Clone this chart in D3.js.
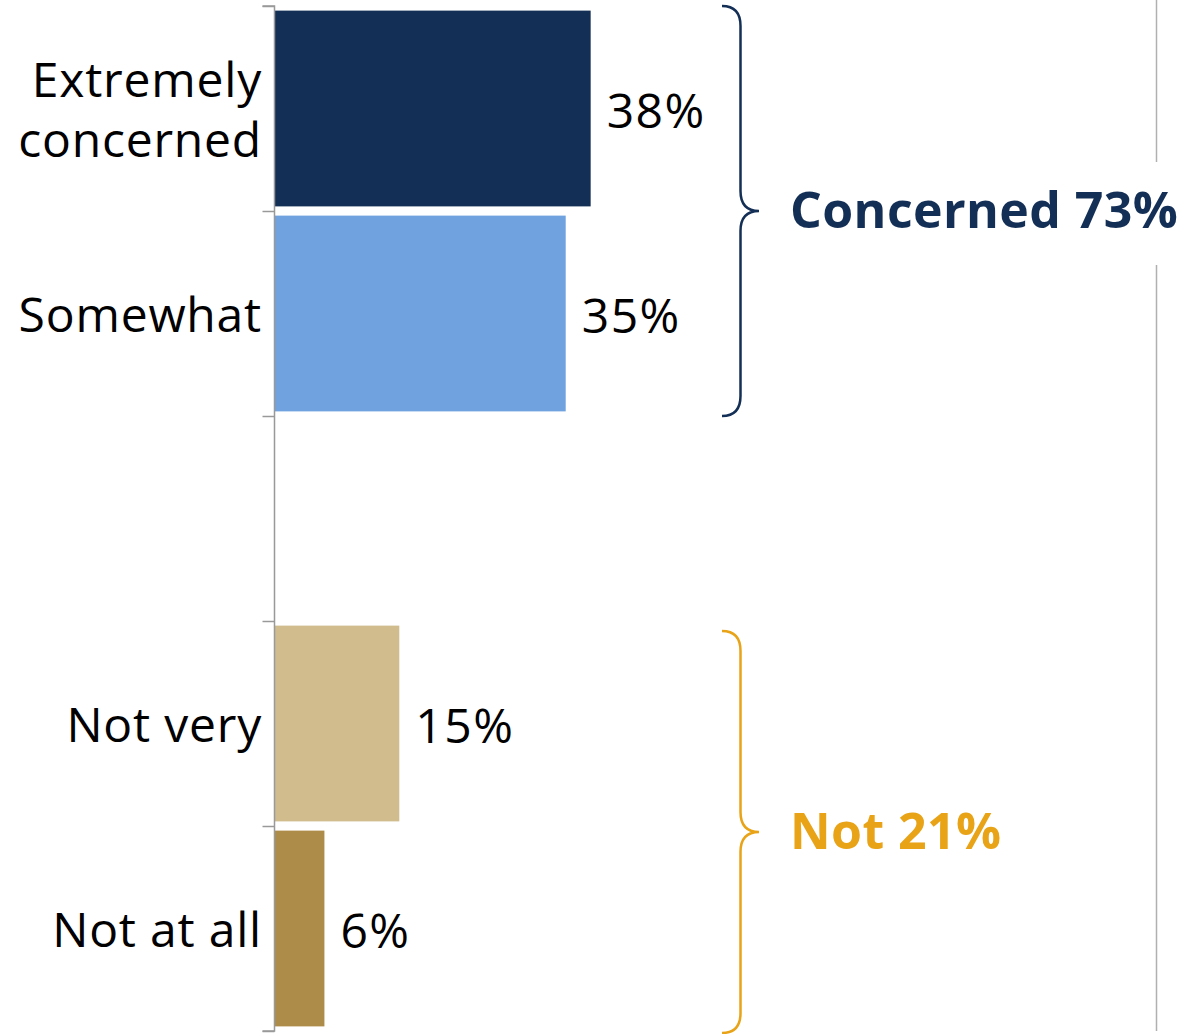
<!DOCTYPE html>
<html><head><meta charset="utf-8">
<script src="https://cdn.jsdelivr.net/npm/d3@7"></script>
<style>html,body{margin:0;padding:0;background:#fff;} svg{display:block;}</style>
</head><body>
<svg id="c" width="1185" height="1034"></svg>
<script>
const categories = ["Extremely concerned", "Somewhat", "", "Not very", "Not at all"];
const values = [38, 35, null, 15, 6];
const valueLabels = ["38%", "35%", "", "15%", "6%"];
const barColors = ["#142F55", "#6FA2DE", "none", "#D1BC8E", "#AC8C48"];
const groupLabels = ["Concerned 73%", "Not 21%"];
const groupRanges = [[0, 1], [3, 4]];
const groupColors = ["#142F55", "#E8A317"];

const svg = d3.select("#c");
const font = "'Open Sans', 'Noto Sans', sans-serif";
const x0 = 274.5;
const x = d3.scaleLinear().domain([0, 100]).range([x0, x0 + 832]);
const y = d3.scaleBand().domain(d3.range(categories.length)).range([6, 1031]).paddingInner(0.045).paddingOuter(0.0225);

// right reference line
svg.append("line").attr("x1", 1156.5).attr("x2", 1156.5).attr("y1", 0).attr("y2", 162).attr("stroke", "#b0b0b0").attr("stroke-width", 1.5);
svg.append("line").attr("x1", 1156.5).attr("x2", 1156.5).attr("y1", 265).attr("y2", 1031).attr("stroke", "#b0b0b0").attr("stroke-width", 1.5);

// bars
svg.selectAll("rect.bar").data(values.map((v, i) => ({v, i})).filter(d => d.v != null))
  .enter().append("rect").attr("class", "bar")
  .attr("x", x(0)).attr("y", d => y(d.i)).attr("width", d => x(d.v) - x(0)).attr("height", y.bandwidth())
  .attr("fill", d => barColors[d.i]);

// axis
const axisScale = d3.scaleLinear().domain([0, categories.length]).range([6, 1031]);
const axis = d3.axisLeft(axisScale).ticks(categories.length).tickSize(12).tickFormat("");
const ag = svg.append("g").attr("transform", `translate(${x0},0)`).call(axis);
ag.select(".domain").attr("stroke", "#999").attr("stroke-width", 1.5).attr("d", "M-12,6H0V1031H-12");
ag.selectAll(".tick line").attr("stroke", "#999").attr("stroke-width", 1.5);

// category labels
categories.forEach((c, i) => {
  if (!c) return;
  const cy = y(i) + y.bandwidth() / 2;
  const words = c === "Extremely concerned" ? ["Extremely", "concerned"] : [c];
  const lh = 60;
  const t = svg.append("text").attr("x", 262).attr("text-anchor", "end")
    .attr("font-family", font).attr("font-size", 48).attr("letter-spacing", 0.8).attr("fill", "#000");
  words.forEach((w, k) => {
    t.append("tspan").attr("x", 262).attr("y", cy + 18 + (k - (words.length - 1) / 2) * lh).text(w);
  });
});

// value labels
values.forEach((v, i) => {
  if (v == null) return;
  svg.append("text").attr("x", x(v) + 16).attr("y", y(i) + y.bandwidth() / 2 + 19)
    .attr("font-family", font).attr("font-size", 48).attr("letter-spacing", 1.5).attr("fill", "#000").text(valueLabels[i]);
});

// braces
groupRanges.forEach((r, g) => {
  const top = y(r[0]) - y.step() * y.paddingInner() / 2;
  const bot = y(r[1]) + y.bandwidth() + y.step() * y.paddingInner() / 2;
  const t0 = g === 0 ? 6 : top + 10;
  const b0 = g === 0 ? bot - 0 : bot + 2;
  const mid = (t0 + b0) / 2;
  const xe = 722, xs = 740.5, xt = 759, rr = 20;
  const p = d3.path();
  p.moveTo(xe, t0);
  p.quadraticCurveTo(xs, t0, xs, t0 + rr);
  p.lineTo(xs, mid - rr);
  p.quadraticCurveTo(xs, mid, xt, mid);
  p.quadraticCurveTo(xs, mid, xs, mid + rr);
  p.lineTo(xs, b0 - rr);
  p.quadraticCurveTo(xs, b0, xe, b0);
  svg.append("path").attr("d", p.toString()).attr("fill", "none")
    .attr("stroke", groupColors[g]).attr("stroke-width", 2.5);
  svg.append("text").attr("x", 790).attr("y", mid + 17)
    .attr("font-family", font).attr("font-weight", "bold").attr("font-size", 50).attr("letter-spacing", 0.4)
    .attr("fill", groupColors[g]).text(groupLabels[g]);
});
</script>
</body></html>
